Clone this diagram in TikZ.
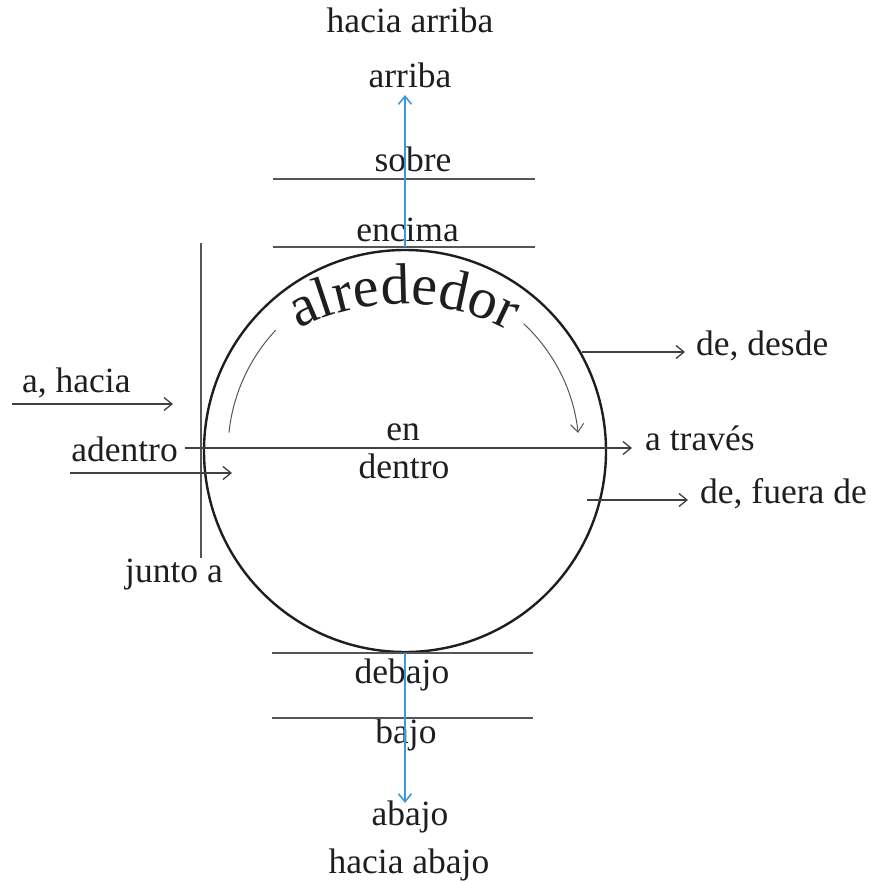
\documentclass[tikz,border=0pt]{standalone}
\usepackage{fontspec}
\setmainfont{Liberation Serif}
\usetikzlibrary{arrows.meta,decorations.text,calc}
\definecolor{txtc}{HTML}{1E1E1E}
\definecolor{linec}{HTML}{555555}
\definecolor{bluec}{HTML}{3C9AD8}
\begin{document}
\begin{tikzpicture}[x=1pt,y=-1pt,
  lbl/.style={inner sep=0pt,text=txtc,font=\fontsize{35.5}{40}\selectfont},
  rule/.style={draw=linec,line width=1.4pt},
  arr/.style={draw=txtc!85,line width=1.3pt,-{Straight Barb[length=8pt,width=13pt,line width=1.3pt]}},
  bluearr/.style={draw=bluec,line width=1.6pt,-{Straight Barb[length=8pt,width=13pt,line width=1.6pt]}},
  thinarc/.style={draw=linec,line width=1pt}]
\useasboundingbox (0,0) rectangle (873,882);
\coordinate (c) at (405,451);
\coordinate (tc) at (402,534);
% circle
\draw[line width=2.4pt,draw=txtc] (c) circle[radius=201pt];
% top labels
\node[lbl,anchor=base] (hacab) at (410,33) {hacia arriba};
\node[lbl,anchor=base] (arriba) at (410,88) {arriba};
\node[lbl,anchor=base] (sobre) at (413,172) {sobre};
\node[lbl,anchor=base] (encima) at (407.5,242) {encima};
% bottom labels
\node[lbl,anchor=base] (debajo) at (402,683) {debajo};
\node[lbl,anchor=base] (bajo) at (406,743) {bajo};
\node[lbl,anchor=base] (abajo) at (410,825) {abajo};
\node[lbl,anchor=base] (hacaba) at (409,873) {hacia abajo};
% centre
\node[lbl,anchor=base] (en) at (403,440) {en};
\node[lbl,anchor=base] (dentro) at (404,478) {dentro};
% left
\node[lbl,anchor=base west] (ahacia) at (22,392) {a, hacia};
\node[lbl,anchor=base east] (adentro) at (178,461) {adentro};
\node[lbl,anchor=base west] (junto) at (125,582) {junto a};
% right
\node[lbl,anchor=base west] (desde) at (696,355) {de, desde};
\node[lbl,anchor=base west] (traves) at (645,450) {a través};
\node[lbl,anchor=base west] (fuera) at (700,503) {de, fuera de};
% horizontal rules
\coordinate (s1) at (273,179); \coordinate (s2) at (535,179);
\coordinate (e1) at (273,247); \coordinate (e2) at (535,247);
\coordinate (d1) at (272,653); \coordinate (d2) at (533,653);
\coordinate (b1) at (272,718); \coordinate (b2) at (533,718);
\draw[rule] (s1) -- (s2);
\draw[rule] (e1) -- (e2);
\draw[rule] (d1) -- (d2);
\draw[rule] (b1) -- (b2);
% vertical rule (junto a)
\coordinate (v1) at (201,243); \coordinate (v2) at (201,558);
\draw[rule] (v1) -- (v2);
% blue arrows
\coordinate (up0) at (405,247); \coordinate (up1) at (405,95);
\coordinate (dn0) at (405,653); \coordinate (dn1) at (405,803);
\draw[bluearr] (up0) -- (up1);
\draw[bluearr] (dn0) -- (dn1);
% black arrows
\coordinate (ah0) at (12,404); \coordinate (ah1) at (173,404);
\coordinate (ad0) at (70,473); \coordinate (ad1) at (232,473);
\coordinate (tr0) at (185,448); \coordinate (tr1) at (632,448);
\coordinate (ds0) at (582,352); \coordinate (ds1) at (685,352);
\coordinate (fu0) at (587,500); \coordinate (fu1) at (688,500);
\draw[arr] (ah0) -- (ah1);
\draw[arr] (ad0) -- (ad1);
\draw[arr] (tr0) -- (tr1);
\draw[arr] (ds0) -- (ds1);
\draw[arr] (fu0) -- (fu1);
% inner arcs
\draw[thinarc] ($(c)+(174:177pt)$) arc[start angle=174,end angle=137,radius=177pt];
\draw[thinarc,-{Straight Barb[length=8pt,width=13pt,line width=1pt]}] ($(c)+(47:174pt)$) arc[start angle=47,end angle=6,radius=174pt];
% curved text
\path[decorate,decoration={text along path,text align=center,
  text format delimiters={|}{|},
  text={|\fontsize{58}{62}\selectfont\color{txtc}|alrededor}}]
  ($(tc)+(120:230pt)$) arc[start angle=120,end angle=59,radius=230pt];
\end{tikzpicture}
\end{document}
